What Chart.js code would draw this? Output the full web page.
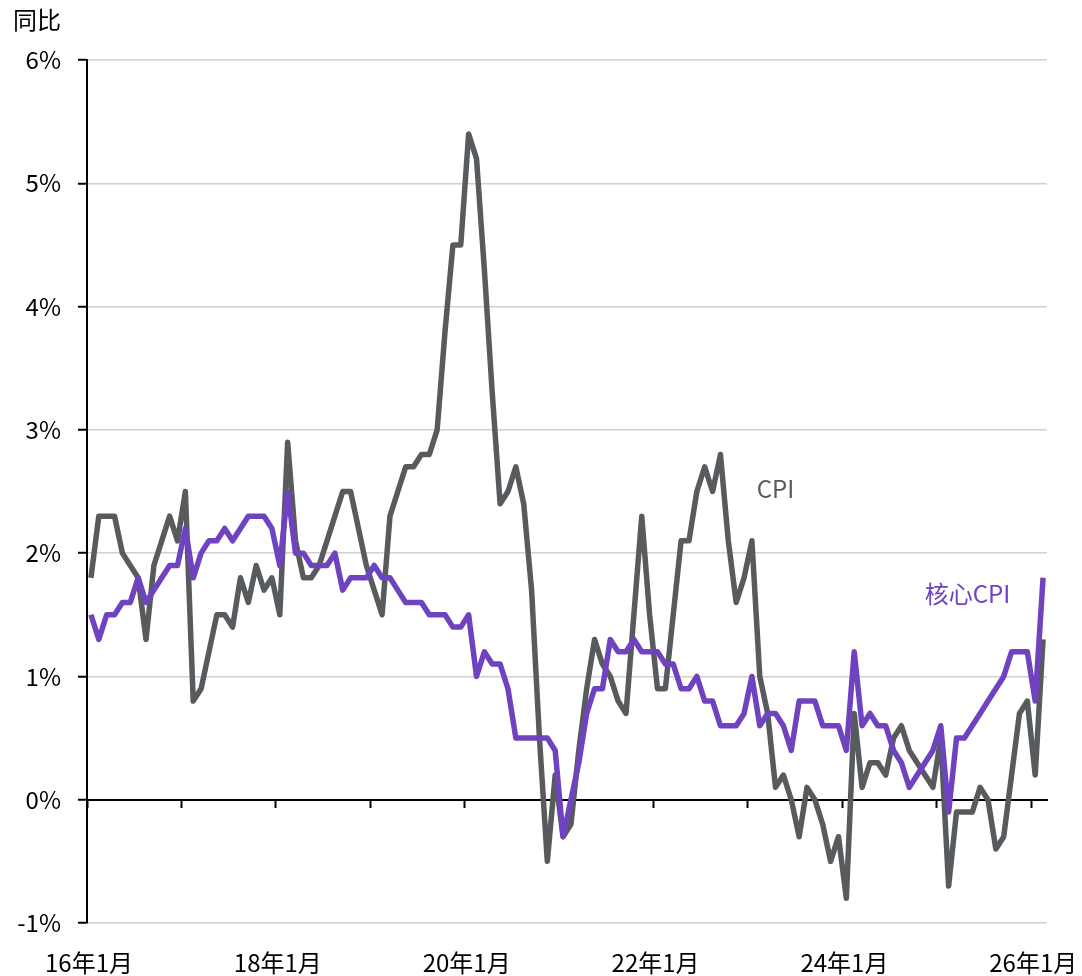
<!DOCTYPE html>
<html>
<head>
<meta charset="utf-8">
<script src="https://cdn.jsdelivr.net/npm/chart.js@4.4.1/dist/chart.umd.min.js"></script>
<style>
  html, body { margin: 0; padding: 0; background: #fff; }
  canvas { display: block; }
</style>
</head>
<body>
<canvas id="chart" width="1082" height="976"></canvas>
<script>
// 月度同比，2016年1月 - 2026年2月
const startYear = 16;

const cpi = [
  1.8, 2.3, 2.3, 2.3, 2.0, 1.9, 1.8, 1.3, 1.9, 2.1, 2.3, 2.1,   // 2016
  2.5, 0.8, 0.9, 1.2, 1.5, 1.5, 1.4, 1.8, 1.6, 1.9, 1.7, 1.8,   // 2017
  1.5, 2.9, 2.1, 1.8, 1.8, 1.9, 2.1, 2.3, 2.5, 2.5, 2.2, 1.9,   // 2018
  1.7, 1.5, 2.3, 2.5, 2.7, 2.7, 2.8, 2.8, 3.0, 3.8, 4.5, 4.5,   // 2019
  5.4, 5.2, 4.3, 3.3, 2.4, 2.5, 2.7, 2.4, 1.7, 0.5, -0.5, 0.2,  // 2020
  -0.3, -0.2, 0.4, 0.9, 1.3, 1.1, 1.0, 0.8, 0.7, 1.5, 2.3, 1.5, // 2021
  0.9, 0.9, 1.5, 2.1, 2.1, 2.5, 2.7, 2.5, 2.8, 2.1, 1.6, 1.8,   // 2022
  2.1, 1.0, 0.7, 0.1, 0.2, 0.0, -0.3, 0.1, 0.0, -0.2, -0.5, -0.3, // 2023
  -0.8, 0.7, 0.1, 0.3, 0.3, 0.2, 0.5, 0.6, 0.4, 0.3, 0.2, 0.1,  // 2024
  0.5, -0.7, -0.1, -0.1, -0.1, 0.1, 0.0, -0.4, -0.3, 0.2, 0.7, 0.8, // 2025
  0.2, 1.3                                                      // 2026
];

const coreCpi = [
  1.5, 1.3, 1.5, 1.5, 1.6, 1.6, 1.8, 1.6, 1.7, 1.8, 1.9, 1.9,   // 2016
  2.2, 1.8, 2.0, 2.1, 2.1, 2.2, 2.1, 2.2, 2.3, 2.3, 2.3, 2.2,   // 2017
  1.9, 2.5, 2.0, 2.0, 1.9, 1.9, 1.9, 2.0, 1.7, 1.8, 1.8, 1.8,   // 2018
  1.9, 1.8, 1.8, 1.7, 1.6, 1.6, 1.6, 1.5, 1.5, 1.5, 1.4, 1.4,   // 2019
  1.5, 1.0, 1.2, 1.1, 1.1, 0.9, 0.5, 0.5, 0.5, 0.5, 0.5, 0.4,   // 2020
  -0.3, 0.0, 0.3, 0.7, 0.9, 0.9, 1.3, 1.2, 1.2, 1.3, 1.2, 1.2,  // 2021
  1.2, 1.1, 1.1, 0.9, 0.9, 1.0, 0.8, 0.8, 0.6, 0.6, 0.6, 0.7,   // 2022
  1.0, 0.6, 0.7, 0.7, 0.6, 0.4, 0.8, 0.8, 0.8, 0.6, 0.6, 0.6,   // 2023
  0.4, 1.2, 0.6, 0.7, 0.6, 0.6, 0.4, 0.3, 0.1, 0.2, 0.3, 0.4,   // 2024
  0.6, -0.1, 0.5, 0.5, 0.6, 0.7, 0.8, 0.9, 1.0, 1.2, 1.2, 1.2,  // 2025
  0.8, 1.8                                                      // 2026
];

const yTickValues = [-1, 0, 1, 2, 3, 4, 5, 6];

const GREY = '#585b5e';
const PURPLE = '#6f43bf';
const FONT = "'Noto Sans CJK SC', 'Noto Sans', sans-serif";

Chart.defaults.font.family = FONT;
Chart.defaults.color = '#000';

// x 轴：每个月占一格，刻度落在格子边界（1月的左边）
const xMin = -0.5;
const xMax = cpi.length - 0.5;
const yearStarts = [];
for (let v = xMin; v < xMax; v += 12) yearStarts.push(v);

const toPoints = arr => arr.map((v, i) => ({ x: i, y: v }));

// 线旁边的文字标签
const seriesTags = [
  { text: 'CPI', month: 87, value: 2.52, color: '#595959' },
  { text: '核心CPI', month: 111.4, value: 1.67, color: PURPLE }
];

const tagPlugin = {
  id: 'seriesTags',
  afterDatasetsDraw(chart) {
    const { ctx, scales: { x, y } } = chart;
    ctx.save();
    ctx.font = '24px ' + FONT;
    ctx.textAlign = 'center';
    ctx.textBaseline = 'middle';
    seriesTags.forEach(t => {
      ctx.fillStyle = t.color;
      ctx.fillText(t.text, x.getPixelForValue(t.month), y.getPixelForValue(t.value));
    });
    ctx.restore();
  }
};

const lineStyle = {
  borderWidth: 5.5,
  pointRadius: 0,
  pointHoverRadius: 0,
  tension: 0,
  fill: false,
  borderJoinStyle: 'round'
};

// 不让刻度文字把绘图区往里挤
const noSidePadding = ax => { ax.paddingLeft = 0; ax.paddingRight = 0; };

new Chart(document.getElementById('chart').getContext('2d'), {
  type: 'line',
  data: {
    datasets: [
      { ...lineStyle, label: '核心CPI', data: toPoints(coreCpi), borderColor: PURPLE, order: 0 },
      { ...lineStyle, label: 'CPI', data: toPoints(cpi), borderColor: GREY, order: 1 }
    ]
  },
  options: {
    responsive: false,
    animation: false,
    events: [],
    layout: { padding: { left: 13, right: 35, top: 0, bottom: 0 } },
    plugins: {
      legend: { display: false },
      tooltip: { enabled: false },
      title: {
        display: true,
        text: '同比',
        align: 'start',
        color: '#000',
        font: { size: 24, weight: 'normal' },
        padding: { top: 5, bottom: 26.2 }
      }
    },
    scales: {
      x: {
        type: 'linear',
        position: 'bottom',
        min: xMin,
        max: xMax,
        grid: { display: false },
        border: { display: false },
        afterBuildTicks: ax => {
          ax.ticks = yearStarts.filter((v, i) => i % 2 === 0).map(v => ({ value: v }));
        },
        ticks: {
          autoSkip: false,
          maxRotation: 0,
          padding: 17,
          labelOffset: 2,
          font: { size: 24 },
          callback: v => (startYear + Math.round((v - xMin) / 12)) + '年1月'
        },
        afterFit: ax => { ax.height = 53; noSidePadding(ax); }
      },
      // 0 值处的横轴，带年份刻度线
      xZero: {
        axis: 'x',
        type: 'linear',
        position: { y: 0 },
        min: xMin,
        max: xMax,
        afterBuildTicks: ax => {
          ax.ticks = yearStarts.map(v => ({ value: v }));
        },
        afterFit: noSidePadding,
        grid: { drawOnChartArea: false, drawTicks: true, tickLength: 7, tickColor: '#000', tickWidth: 2 },
        border: { display: true, color: '#000', width: 2 },
        ticks: { display: false }
      },
      y: {
        min: -1,
        max: 6,
        afterBuildTicks: ax => {
          ax.ticks = yTickValues.map(v => ({ value: v }));
        },
        grid: {
          color: c => (c.tick && c.tick.value === 0) ? 'rgba(0,0,0,0)' : '#d0d0d0',
          lineWidth: 1.5,
          tickColor: '#000',
          tickWidth: 2,
          tickLength: 9
        },
        border: { color: '#000', width: 2 },
        ticks: {
          padding: 17,
          font: { size: 24 },
          callback: v => v + '%'
        },
        afterFit: ax => { ax.width = 74; }
      }
    }
  },
  plugins: [tagPlugin]
});
</script>
</body>
</html>
